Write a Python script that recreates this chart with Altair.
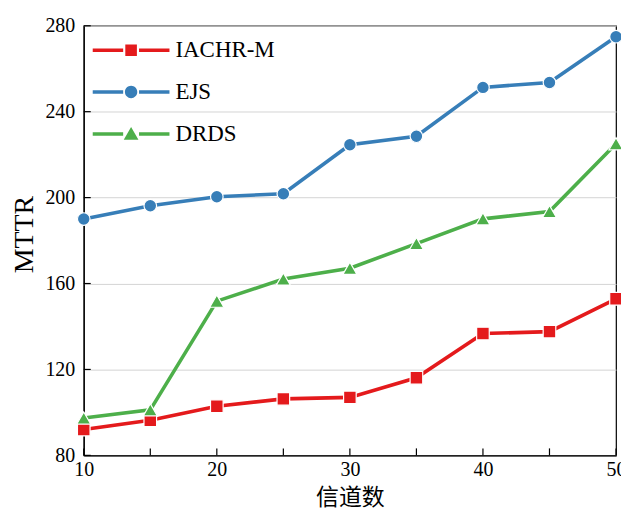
import altair as alt
import pandas as pd

channels = [10, 15, 20, 25, 30, 35, 40, 45, 50]
iachr = [92.0, 96.3, 102.9, 106.3, 107.0, 116.1, 136.7, 137.6, 152.9]
ejs = [190.0, 196.2, 200.4, 201.8, 224.6, 228.6, 251.3, 253.6, 274.9]
drds = [97.4, 101.2, 151.8, 162.1, 167.1, 178.6, 190.1, 193.5, 225.1]

series = ["IACHR-M", "EJS", "DRDS"]
colors = ["#e41a1c", "#377eb8", "#4daf4a"]
shapes = ["square", "circle", "triangle-up"]
sizes = [160, 160, 200]

x_labels = [10, 20, 30, 40, 50]
x_ticks = [10, 15, 20, 25, 30, 35, 40, 45, 50]
y_ticks = [80, 120, 160, 200, 240, 280]

rows = []
for name, vals in zip(series, [iachr, ejs, drds]):
    for c, v in zip(channels, vals):
        rows.append({"ch": c, "val": v, "series": name})
df = pd.DataFrame(rows)

SERIF = "Liberation Serif"
W, H = 534, 431

# legend symbols: a line broken around a marker (path units: 1 = 29.5px)
line_part = "M-1.305,-0.059H-0.27V0.059H-1.305Z M0.27,-0.059H1.305V0.059H0.27Z "
legend_paths = [
    line_part + "M-0.197,-0.197H0.197V0.197H-0.197Z",
    line_part + "M-0.21,0A0.21,0.21 0 1,1 0.21,0A0.21,0.21 0 1,1 -0.21,0Z",
    line_part + "M0,-0.237L0.25,0.197L-0.25,0.197Z",
]

xs = alt.Scale(domain=[10, 50], nice=False, zero=False)
ys = alt.Scale(domain=[80, 280], nice=False, zero=False)

base = alt.Chart(df)

x_main = alt.Axis(
    orient="bottom", values=x_labels, ticks=False, grid=False, labelFlush=False,
    domainColor="black", domainWidth=1.2, labelFont=SERIF,
    labelFontSize=20, labelColor="black", labelPadding=4,
    title="信道数", titleFont="Noto Sans CJK SC", titleFontSize=23,
    titleFontWeight="normal", titleColor="black", titlePadding=7)
y_main = alt.Axis(
    orient="left", values=y_ticks, ticks=False, grid=True, labelFlush=False,
    gridColor="#d4d4d4", gridWidth=1, domainColor="black",
    domainWidth=1.2, labelFont=SERIF, labelFontSize=20,
    labelColor="black", labelPadding=9, title="MTTR",
    titleFont=SERIF, titleFontSize=28, titleFontWeight="normal",
    titleColor="black", titlePadding=6, titleY=209)

layers = []
for name, col in zip(series, colors):
    layers.append(
        base.transform_filter(alt.datum.series == name)
        .mark_line(strokeWidth=3.6, color=col)
        .encode(
            x=alt.X("ch:Q", scale=xs, axis=x_main),
            y=alt.Y("val:Q", scale=ys, axis=y_main),
        )
    )

for name, col, shp, sz in zip(series, colors, shapes, sizes):
    layers.append(
        base.transform_filter(alt.datum.series == name)
        .mark_point(shape=shp, filled=True, size=sz, opacity=1, fill=col,
                    stroke="white", strokeWidth=1.2)
        .encode(
            x=alt.X("ch:Q", scale=xs, axis=x_main),
            y=alt.Y("val:Q", scale=ys, axis=y_main),
        )
    )

# inward tick marks
xt = pd.DataFrame({"t": x_ticks})
yt = pd.DataFrame({"t": y_ticks})
layers.append(
    alt.Chart(xt).mark_rule(color="black", strokeWidth=1.2).encode(
        x=alt.X("t:Q", scale=xs, axis=x_main),
        y=alt.value(H), y2=alt.value(H - 7))
)
layers.append(
    alt.Chart(yt).mark_rule(color="black", strokeWidth=1.2).encode(
        y=alt.Y("t:Q", scale=ys, axis=y_main),
        x=alt.value(0), x2=alt.value(7))
)

legend_layer = base.transform_filter("datum.ch < 0").mark_point(
    filled=True, opacity=1).encode(
    color=alt.Color("series:N", scale=alt.Scale(domain=series, range=colors),
                    legend=alt.Legend(
        title=None, orient="none", legendX=18, legendY=-5,
        symbolSize=59 * 59, symbolStrokeWidth=0, symbolOpacity=1,
        labelFont=SERIF, labelFontSize=23, labelColor="black",
        labelLimit=300, labelOffset=15, rowPadding=0, padding=0)),
    shape=alt.Shape("series:N", scale=alt.Scale(domain=series, range=legend_paths)),
)
layers.append(legend_layer)

chart = alt.layer(*layers).properties(
    width=W, height=H,
    autosize=alt.AutoSizeParams(type="none"),
    padding={"left": 76, "top": 17, "right": 5, "bottom": 56},
).configure_view(stroke="black", strokeWidth=1.2)

chart.save("out.html", embed_options={"renderer": "svg", "actions": False})
